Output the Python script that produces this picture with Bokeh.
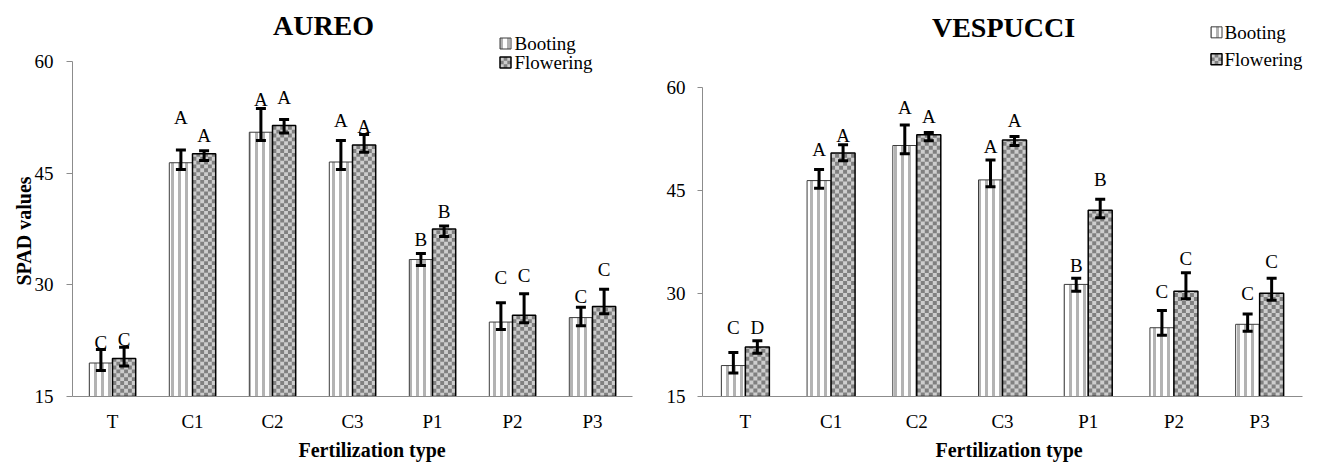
import math
from bokeh.plotting import figure
from bokeh.models import (ColumnDataSource, FactorRange, Range1d, FixedTicker,
                          Whisker, TeeHead, Label, Title)
from bokeh.transform import dodge
from bokeh.layouts import row
from bokeh.core.properties import value
from bokeh.embed import file_html
from bokeh.resources import INLINE

# ---------------- data ----------------
categories = ["T", "C1", "C2", "C3", "P1", "P2", "P3"]
y_ticks = [15, 30, 45, 60]
series_names = ["Booting", "Flowering"]

# AUREO
aureo_booting = [19.5, 46.4, 50.5, 46.5, 33.4, 25.0, 25.6]
aureo_booting_lo = [18.5, 45.5, 49.4, 45.5, 32.6, 24.0, 24.5]
aureo_booting_hi = [21.3, 48.1, 53.7, 49.4, 34.2, 27.6, 27.0]
aureo_flowering = [20.1, 47.6, 51.4, 48.8, 37.5, 25.9, 27.1]
aureo_flowering_lo = [19.1, 46.7, 50.4, 47.8, 36.5, 24.9, 26.1]
aureo_flowering_hi = [21.6, 48.0, 52.2, 50.2, 37.9, 28.8, 29.4]
aureo_letters_b = ["C", "A", "A", "A", "B", "C", "C"]
aureo_letters_f = ["C", "A", "A", "A", "B", "C", "C"]
aureo_letters_b_y = [22.3, 52.5, 54.9, 52.1, 36.1, 31.0, 28.5]
aureo_letters_f_y = [22.6, 50.1, 55.2, 51.3, 39.9, 31.3, 32.1]

# VESPUCCI
vesp_booting = [19.5, 46.4, 51.5, 46.5, 31.3, 25.0, 25.5]
vesp_booting_lo = [18.4, 45.3, 50.3, 45.5, 30.3, 23.9, 24.5]
vesp_booting_hi = [21.4, 48.0, 54.5, 49.4, 32.2, 27.5, 27.0]
vesp_flowering = [22.2, 50.4, 53.05, 52.3, 42.1, 30.3, 30.0]
vesp_flowering_lo = [21.3, 49.3, 52.2, 51.5, 41.0, 29.2, 29.0]
vesp_flowering_hi = [23.1, 51.6, 53.4, 52.8, 43.7, 33.0, 32.2]
vesp_letters_b = ["C", "A", "A", "A", "B", "C", "C"]
vesp_letters_f = ["D", "A", "A", "A", "B", "C", "C"]
vesp_letters_b_y = [25.1, 50.9, 57.0, 51.3, 34.0, 30.3, 30.0]
vesp_letters_f_y = [25.0, 52.9, 55.7, 55.2, 46.5, 35.0, 34.7]

# ---------------- style ----------------
SERIF = "Liberation Serif"
AXIS_GRAY = "#8c8c8c"
STRIPE = "#b3b3b3"
CHECK_LIGHT = "#cdcdcd"
CHECK_DARK = "#808080"
FIG_H = 463


def checker_quads(x_lefts, x_rights, y_bottoms, y_tops, cw, ch):
    """Split each rectangle into a checkerboard and return its dark cells."""
    L, R, B, T = [], [], [], []
    for x0, x1, y0, y1 in zip(x_lefts, x_rights, y_bottoms, y_tops):
        ncol = int(math.ceil((x1 - x0) / cw - 1e-6))
        nrow = int(math.ceil((y1 - y0) / ch - 1e-6))
        for r in range(nrow):
            for c in range(ncol):
                if (r + c) % 2 == 0:
                    continue
                l = x0 + c * cw
                b = y0 + r * ch
                L.append(l)
                R.append(min(l + cw, x1))
                B.append(b)
                T.append(min(b + ch, y1))
    return dict(left=L, right=R, bottom=B, top=T)


def make_chart(title, fig_x0, fig_w, g, boot, boot_lo, boot_hi, flow, flow_lo, flow_hi,
               lb, lb_y, lf, lf_y):
    left, right, bottom, y60 = g["left"], g["right"], g["bottom"], g["y60"]
    top = 0
    ypx = (bottom - y60) / 45.0
    y_end = 60 + (y60 - top) / ypx
    catw = (right - left) / len(categories)

    def X(px):
        return (px - left) / catw

    def Y(py):
        return 15 + (bottom - py) / ypx

    p = figure(x_range=FactorRange(factors=categories, range_padding=0),
               y_range=Range1d(15, y_end),
               width=fig_w, height=FIG_H, output_backend="svg",
               toolbar_location=None, tools="",
               min_border_left=int(round(left - fig_x0)),
               min_border_right=int(round(fig_x0 + fig_w - right)),
               min_border_top=0,
               min_border_bottom=int(round(FIG_H - bottom)),
               outline_line_color=None)
    p.xgrid.visible = False
    p.ygrid.visible = False

    bw = g["bw"]
    src = ColumnDataSource(dict(cat=categories, boot=boot, boot_lo=boot_lo, boot_hi=boot_hi,
                                flow=flow, flow_lo=flow_lo, flow_hi=flow_hi,
                                lb=lb, lb_y=lb_y, lf=lf, lf_y=lf_y))
    xb = dodge("cat", -bw / 2, range=p.x_range)
    xf = dodge("cat", bw / 2, range=p.x_range)

    boot_style = dict(fill_color="white", hatch_pattern=value("vertical_line"),
                      hatch_color=STRIPE, hatch_scale=7, hatch_weight=3,
                      line_color="#3c3c3c", line_width=1)

    # booting bars
    p.vbar(x=xb, top="boot", bottom=15, width=bw, source=src, **boot_style)

    # flowering bars: light fill, checkerboard cells, black outline
    p.vbar(x=xf, top="flow", bottom=15, width=bw, source=src,
           fill_color=CHECK_LIGHT, line_color=None)
    cell_px = bw * catw / 6.0
    cw, ch = cell_px / catw, cell_px / ypx
    fl = [i + 0.5 for i in range(len(categories))]
    cells = checker_quads(fl, [x + bw for x in fl], [15] * len(flow), flow, cw, ch)
    p.quad(source=ColumnDataSource(cells), left="left", right="right", bottom="bottom",
           top="top", fill_color=CHECK_DARK, line_color=None)
    p.vbar(x=xf, top="flow", bottom=15, width=bw, source=src,
           fill_color=None, line_color="black", line_width=1.5)

    for base, lo, hi in ((xb, "boot_lo", "boot_hi"), (xf, "flow_lo", "flow_hi")):
        w = Whisker(base=base, lower=lo, upper=hi, source=src, level="overlay",
                    line_color="black", line_width=3,
                    upper_head=TeeHead(size=10, line_width=3, line_color="black"),
                    lower_head=TeeHead(size=10, line_width=3, line_color="black"))
        p.add_layout(w)

    for xx, t, ty in ((xb, "lb", "lb_y"), (xf, "lf", "lf_y")):
        p.text(x=xx, y=ty, text=t, source=src, text_font=value(SERIF),
               text_font_size="19px", text_align="center", text_baseline="middle",
               text_color="black")

    # legend, drawn by hand above the bars
    lx, ltx = g["leg_x"], g["leg_tx"]
    sq = 11
    yb, yfl = g["leg_y"]
    p.rect(x=[X(lx)], y=[Y(yb)], width=sq, height=sq, width_units="screen",
           height_units="screen", **boot_style)
    p.rect(x=[X(lx)], y=[Y(yfl)], width=sq, height=sq, width_units="screen",
           height_units="screen", fill_color=CHECK_LIGHT, line_color=None)
    lcells = checker_quads([X(lx - sq / 2)], [X(lx + sq / 2)], [Y(yfl + sq / 2)],
                           [Y(yfl - sq / 2)], (sq / 3) / catw, (sq / 3) / ypx)
    p.quad(source=ColumnDataSource(lcells), left="left", right="right", bottom="bottom",
           top="top", fill_color=CHECK_DARK, line_color=None)
    p.rect(x=[X(lx)], y=[Y(yfl)], width=sq, height=sq, width_units="screen",
           height_units="screen", fill_color=None, line_color="black", line_width=1.5)
    for name, py in ((series_names[0], yb), (series_names[1], yfl)):
        p.add_layout(Label(x=X(ltx), y=Y(py), text=name, text_font=SERIF,
                           text_font_size="19px", text_align="left",
                           text_baseline="middle", text_color="black"))

    # chart title
    p.add_layout(Label(x=X(g["title"][0]), y=Y(g["title"][1]), text=title,
                       text_font=SERIF, text_font_style="bold", text_font_size="28px",
                       text_align="center", text_baseline="middle", text_color="black"))

    # axes
    p.yaxis.ticker = FixedTicker(ticks=y_ticks)
    p.yaxis.bounds = (15, 60)
    p.yaxis.minor_tick_line_color = None
    p.yaxis.major_tick_out = g["ytick_out"]
    p.yaxis.major_tick_in = 0
    p.yaxis.major_label_standoff = g["ystandoff"]
    p.yaxis.major_tick_line_color = AXIS_GRAY
    p.xaxis.major_tick_line_color = None
    p.xaxis.minor_tick_line_color = None
    p.xaxis.major_tick_out = 0
    p.xaxis.major_tick_in = 0
    p.xaxis.major_label_standoff = 14
    for ax in (p.xaxis, p.yaxis):
        ax.axis_line_color = AXIS_GRAY
        ax.major_label_text_font = SERIF
        ax.major_label_text_font_size = "19px"
        ax.major_label_text_color = "black"

    # axis titles
    p.add_layout(Title(text="Fertilization type", align="left", offset=g["xlab_off"],
                       standoff=4, text_font=SERIF, text_font_style="bold",
                       text_font_size="20px", text_color="black"), "below")
    if g.get("ylab_off") is not None:
        p.add_layout(Title(text="SPAD values", align="left", offset=g["ylab_off"],
                           standoff=-6, text_font=SERIF, text_font_style="bold",
                           text_font_size="20px", text_color="black"), "left")
    return p


g_left = dict(left=72, right=632, bottom=396, y60=61, bw=0.29,
              leg_x=505, leg_tx=514, leg_y=(43, 62), title=(323, 25),
              xlab_off=226, ylab_off=111, ytick_out=6, ystandoff=13)
g_right = dict(left=702, right=1302, bottom=398, y60=87, bw=0.28,
               leg_x=1216, leg_tx=1224, leg_y=(32, 59), title=(1003, 27),
               xlab_off=233, ytick_out=5, ystandoff=12)

p1 = make_chart("AUREO", 0, 660, g_left,
                aureo_booting, aureo_booting_lo, aureo_booting_hi,
                aureo_flowering, aureo_flowering_lo, aureo_flowering_hi,
                aureo_letters_b, aureo_letters_b_y, aureo_letters_f, aureo_letters_f_y)
p2 = make_chart("VESPUCCI", 660, 658, g_right,
                vesp_booting, vesp_booting_lo, vesp_booting_hi,
                vesp_flowering, vesp_flowering_lo, vesp_flowering_hi,
                vesp_letters_b, vesp_letters_b_y, vesp_letters_f, vesp_letters_f_y)

layout = row(p1, p2)
open("out.html", "w").write(file_html(layout, INLINE))
